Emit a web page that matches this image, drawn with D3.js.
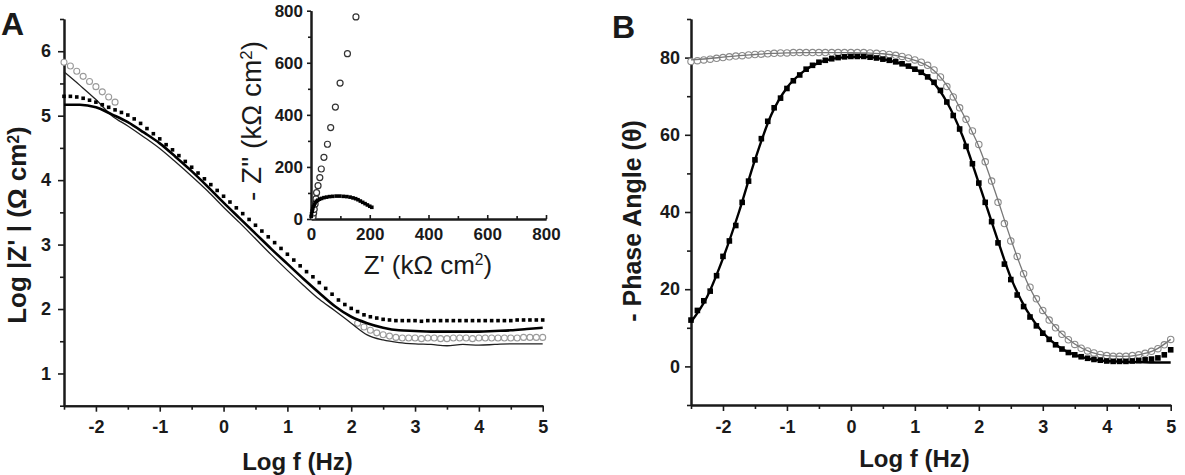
<!DOCTYPE html>
<html><head><meta charset="utf-8">
<script src="https://cdn.jsdelivr.net/npm/d3@7"></script>
<style>
body{margin:0;background:#fff;}
svg{display:block;font-family:Arial,"Liberation Sans",sans-serif;}
</style></head><body>
<svg id="c" width="1185" height="475"></svg>
<script>
// ---------- DATA ----------
const logF = [-2.5,-2.4,-2.3,-2.2,-2.1,-2.0,-1.9,-1.8,-1.7,-1.6,
  -1.5,-1.4,-1.3,-1.2,-1.1,-1.0,-0.9,-0.8,-0.7,-0.6,
  -0.5,-0.4,-0.3,-0.2,-0.1,0.0,0.1,0.2,0.3,0.4,
  0.5,0.6,0.7,0.8,0.9,1.0,1.1,1.2,1.3,1.4,
  1.5,1.6,1.7,1.8,1.9,2.0,2.1,2.2,2.3,2.4,
  2.5,2.6,2.7,2.8,2.9,3.0,3.1,3.2,3.3,3.4,
  3.5,3.6,3.7,3.8,3.9,4.0,4.1,4.2,4.3,4.4,
  4.5,4.6,4.7,4.8,4.9,5.0];

// Panel A: Log|Z| measured (filled dots, open circles)
const aDots = [5.30,5.30,5.29,5.27,5.24,5.21,5.17,5.13,5.09,5.05,
  5.01,4.95,4.88,4.80,4.72,4.64,4.55,4.47,4.38,4.29,
  4.20,4.11,4.02,3.93,3.84,3.75,3.66,3.57,3.48,3.39,
  3.30,3.21,3.12,3.03,2.94,2.85,2.76,2.67,2.58,2.50,
  2.41,2.32,2.23,2.14,2.07,2.01,1.96,1.91,1.88,1.86,
  1.84,1.83,1.82,1.82,1.82,1.82,1.81,1.82,1.82,1.82,
  1.82,1.82,1.82,1.82,1.82,1.82,1.82,1.82,1.82,1.82,
  1.82,1.83,1.83,1.83,1.83,1.83];
const aCircles = [5.83,5.77,5.69,5.61,5.53,5.45,5.37,5.29,5.21,null,
  null,null,null,null,null,null,null,null,null,null,
  null,null,null,null,null,null,null,null,null,null,
  null,null,null,null,null,null,null,null,null,null,
  null,null,null,null,null,null,1.78,1.72,1.67,1.63,
  1.60,1.58,1.56,1.55,1.55,1.55,1.54,1.55,1.55,1.54,
  1.54,1.55,1.55,1.55,1.54,1.55,1.55,1.55,1.55,1.55,
  1.55,1.55,1.56,1.56,1.56,1.56];
// Panel A fitted curves
const aFitF = [-2.5,-2.25,-2.0,-1.75,-1.5,-1.25,-1.0,-0.75,-0.5,-0.25,0,0.25,0.5,0.75,1.0,1.25,1.5,1.75,2.0,2.25,2.5,2.75,3.0,3.25,3.5,3.75,4.0,4.25,4.5,4.75,5.0];
const aFitThick = [5.17,5.17,5.13,5.02,4.90,4.74,4.57,4.36,4.14,3.90,3.65,3.41,3.17,2.93,2.70,2.47,2.25,2.04,1.88,1.78,1.71,1.67,1.66,1.65,1.65,1.65,1.65,1.66,1.67,1.69,1.71];
const aFitThin = [5.68,5.47,5.25,5.00,4.84,4.67,4.49,4.28,4.06,3.83,3.58,3.34,3.09,2.84,2.60,2.37,2.15,1.97,1.78,1.60,1.52,1.48,1.46,1.45,1.43,1.45,1.44,1.45,1.46,1.46,1.46];

// Inset: Nyquist (kOhm cm2)
const nOpenRe = [7,9,11,14,17,19,24,30,35,44,56,67,83,99,124,153];
const nOpenIm = [9,23,37,58,77,101,128,159,192,237,287,351,430,522,635,776];
const nFillRe = [1,2,4,6,8,11,14,18,23,29,36,44,53,63,74,86,98,110,122,133,143,152,160,168,176,184,192,200,207];
const nFillIm = [10,20,30,40,48,56,62,68,72,76,79,82,84,86,87,88,88,87,86,84,81,78,74,69,64,59,54,49,45];

// Panel B: phase angle
const bSquares = [12.0,14.5,17.0,19.5,23.5,28.5,32.5,36.5,42.5,48.0,
  53.5,59.0,63.5,67.0,69.5,72.0,74.0,75.5,77.0,78.0,
  78.8,79.3,79.7,80.0,80.2,80.3,80.3,80.3,80.1,79.9,
  79.6,79.3,78.9,78.4,77.8,77.0,76.2,75.0,73.6,71.5,
  68.5,65.0,61.5,57.0,52.5,47.5,42.5,37.5,32.0,26.5,
  22.5,18.5,15.5,12.8,10.5,8.6,7.0,5.6,4.5,3.6,
  3.0,2.5,2.1,1.8,1.6,1.4,1.3,1.3,1.3,1.4,
  1.5,1.7,1.9,2.2,3.0,4.3];
const bCircles = [79.0,79.2,79.4,79.6,79.8,80.0,80.2,80.4,80.5,80.7,
  80.8,80.9,81.0,81.1,81.2,81.2,81.3,81.3,81.3,81.3,
  81.3,81.3,81.3,81.3,81.3,81.3,81.3,81.3,81.2,81.1,
  81.0,80.8,80.6,80.3,79.9,79.4,78.8,78.0,76.8,75.0,
  72.5,69.8,67.0,64.0,61.0,57.5,53.0,48.0,42.5,37.0,
  32.5,28.5,24.0,20.5,17.5,14.5,12.0,10.0,8.3,6.9,
  5.7,4.7,4.0,3.5,3.1,2.8,2.6,2.6,2.6,2.8,
  3.0,3.4,3.9,4.6,5.6,7.0];
const bFitF = aFitF;
const bFitThick = [11.5,18.0,28.0,40.0,53.5,65.0,72.2,76.3,78.7,79.8,80.2,80.2,79.6,78.6,77.0,74.3,68.5,59.5,47.5,35.0,23.0,14.5,8.8,5.1,3.0,1.9,1.4,1.2,1.1,1.0,1.0];
const bFitThin = [79.4,79.7,80.1,80.5,80.8,81.1,81.2,81.3,81.3,81.3,81.3,81.2,81.0,80.4,79.3,77.3,72.8,65.5,57.0,45.5,33.0,22.0,14.5,9.2,5.8,3.7,2.8,2.6,3.0,4.2,7.0];

// Tick values
const fMajor = [-2,-1,0,1,2,3,4,5];
const fMinor = [-2.5,-1.5,-0.5,0.5,1.5,2.5,3.5,4.5];
const aYMajor = [1,2,3,4,5,6];
const aYMinor = [0.5,1.5,2.5,3.5,4.5,5.5,6.5];
const bYMajor = [0,20,40,60,80];
const bYMinor = [-10,10,30,50,70,90];
const nMajor = [0,200,400,600,800];
const nMinor = [100,300,500,700];

// ---------- DRAW ----------
const svg = d3.select("#c");
const INK = "#1a1a1a";

function styleAxis(g, fs){
  g.select("path.domain").attr("stroke", INK).attr("stroke-width", 2);
  g.selectAll(".tick line").attr("stroke", INK).attr("stroke-width", 1.6);
  g.selectAll(".tick text").attr("fill", INK).attr("font-size", fs).attr("font-weight", "bold")
    .attr("font-family", 'Arial,"Liberation Sans",sans-serif');
}
const fmt = d => String(d);

function bottomAxis(x, y0, major, minor, size, minSize, pad, fs){
  const gm = svg.append("g").attr("transform", `translate(0,${y0})`)
    .call(d3.axisBottom(x).tickValues(minor).tickSize(minSize).tickSizeOuter(0).tickFormat(""));
  styleAxis(gm, fs);
  const g = svg.append("g").attr("transform", `translate(0,${y0})`)
    .call(d3.axisBottom(x).tickValues(major).tickSize(size).tickPadding(pad).tickSizeOuter(0).tickFormat(fmt));
  styleAxis(g, fs);
  return g;
}
function leftAxis(y, x0, major, minor, size, minSize, pad, fs){
  const gm = svg.append("g").attr("transform", `translate(${x0},0)`)
    .call(d3.axisLeft(y).tickValues(minor).tickSize(minSize).tickSizeOuter(0).tickFormat(""));
  styleAxis(gm, fs);
  const g = svg.append("g").attr("transform", `translate(${x0},0)`)
    .call(d3.axisLeft(y).tickValues(major).tickSize(size).tickPadding(pad).tickSizeOuter(0).tickFormat(fmt));
  styleAxis(g, fs);
  return g;
}

// ===== Panel A =====
const xA = d3.scaleLinear().domain([-2.5, 5]).range([64, 542.7]);
const yA = d3.scaleLinear().domain([0.5, 6.5]).range([405.7, 19]);

bottomAxis(xA, 405.7, fMajor, fMinor, 6, 4, 9, 18);
leftAxis(yA, 64, aYMajor, aYMinor, 6, 4, 7, 18);

const gA = svg.append("g");
const ptsA = logF.map((f,i)=>({f, v:aCircles[i]})).filter(d=>d.v!=null);
gA.selectAll("circle.o").data(ptsA).join("circle")
  .attr("cx", d=>xA(d.f)).attr("cy", d=>yA(d.v)).attr("r", 3)
  .attr("fill", "#fff").attr("stroke", "#9a9a9a").attr("stroke-width", 1.1);

const lineA = d3.line().x((d,i)=>xA(aFitF[i])).y(d=>yA(d)).curve(d3.curveMonotoneX);
gA.append("path").datum(aFitThin).attr("d", lineA).attr("fill","none").attr("stroke","#222").attr("stroke-width",1.3);
gA.append("path").datum(aFitThick).attr("d", lineA).attr("fill","none").attr("stroke","#000").attr("stroke-width",2.6);

gA.selectAll("rect.d").data(logF.map((f,i)=>({f, v:aDots[i]}))).join("rect")
  .attr("x", d=>xA(d.f)-1.8).attr("y", d=>yA(d.v)-1.8).attr("width",3.6).attr("height",3.6).attr("fill","#000");

// Y label A
const yLabA = svg.append("text")
  .attr("transform", "translate(26,225) rotate(-90)")
  .attr("text-anchor","middle").attr("font-size",26).attr("font-weight","bold").attr("fill",INK);
yLabA.append("tspan").text("Log |Z' | (\u03A9 cm");
yLabA.append("tspan").attr("dy","-0.45em").attr("font-size","0.6em").text("2");
yLabA.append("tspan").attr("dy","0.27em").text(")");

svg.append("text").attr("x",297.5).attr("y",470).attr("text-anchor","middle")
  .attr("font-size",24).attr("font-weight","bold").attr("fill",INK).text("Log f (Hz)");
svg.append("text").attr("x",1).attr("y",35).attr("font-size",32).attr("font-weight","bold").attr("fill",INK).text("A");

// ===== Inset =====
const xI = d3.scaleLinear().domain([0, 800]).range([311, 546]);
const yI = d3.scaleLinear().domain([0, 800]).range([219, 10.7]);
bottomAxis(xI, 219, nMajor, nMinor, -4, -3, 9, 17);
leftAxis(yI, 311, nMajor, nMinor, 4, 3, 4, 17);

const gI = svg.append("g");
gI.selectAll("circle").data(nOpenRe.map((r,i)=>({r, m:nOpenIm[i]}))).join("circle")
  .attr("cx", d=>xI(d.r)).attr("cy", d=>yI(d.m)).attr("r", 3)
  .attr("fill","#fff").attr("stroke","#333").attr("stroke-width",1.2);
gI.selectAll("rect").data(nFillRe.map((r,i)=>({r, m:nFillIm[i]}))).join("rect")
  .attr("x", d=>xI(d.r)-1.8).attr("y", d=>yI(d.m)-1.8).attr("width",3.6).attr("height",3.6).attr("fill","#000");

const xLabI = svg.append("text").attr("x",428).attr("y",274).attr("text-anchor","middle")
  .attr("font-size",26).attr("fill",INK);
xLabI.append("tspan").text("Z' (k\u03A9 cm");
xLabI.append("tspan").attr("dy","-0.55em").attr("font-size","0.6em").text("2");
xLabI.append("tspan").attr("dy","0.33em").text(")");

const yLabI = svg.append("text").attr("transform","translate(261,121) rotate(-90)")
  .attr("text-anchor","middle").attr("font-size",28).attr("fill",INK);
yLabI.append("tspan").text("- Z\" (k\u03A9 cm");
yLabI.append("tspan").attr("dy","-0.55em").attr("font-size","0.6em").text("2");
yLabI.append("tspan").attr("dy","0.33em").text(")");

// ===== Panel B =====
const xB = d3.scaleLinear().domain([-2.5, 5]).range([691, 1170.7]);
const yB = d3.scaleLinear().domain([-10, 90]).range([405, 19]);
bottomAxis(xB, 405, fMajor, fMinor, 6, 4, 9, 18);
leftAxis(yB, 691, bYMajor, bYMinor, 6, 4, 5, 18);

const gB = svg.append("g");
gB.selectAll("circle").data(logF.map((f,i)=>({f, v:bCircles[i]}))).join("circle")
  .attr("cx", d=>xB(d.f)).attr("cy", d=>yB(d.v)).attr("r", 3.2)
  .attr("fill","#fff").attr("stroke","#8a8a8a").attr("stroke-width",1.1);
const lineB = d3.line().x((d,i)=>xB(bFitF[i])).y(d=>yB(d)).curve(d3.curveMonotoneX);
gB.append("path").datum(bFitThin).attr("d", lineB).attr("fill","none").attr("stroke","#777").attr("stroke-width",1.3);
gB.append("path").datum(bFitThick).attr("d", lineB).attr("fill","none").attr("stroke","#000").attr("stroke-width",2.4);
gB.selectAll("rect").data(logF.map((f,i)=>({f, v:bSquares[i]}))).join("rect")
  .attr("x", d=>xB(d.f)-2.8).attr("y", d=>yB(d.v)-2.8).attr("width",5.6).attr("height",5.6).attr("fill","#000");

svg.append("text").attr("transform","translate(641,221) rotate(-90)")
  .attr("text-anchor","middle").attr("font-size",25).attr("font-weight","bold").attr("fill",INK)
  .text("- Phase Angle (\u03B8)");

svg.append("text").attr("x",914.5).attr("y",467).attr("text-anchor","middle")
  .attr("font-size",24).attr("font-weight","bold").attr("fill",INK).text("Log f (Hz)");
svg.append("text").attr("x",612).attr("y",38).attr("font-size",32).attr("font-weight","bold").attr("fill",INK).text("B");
</script>
</body></html>
